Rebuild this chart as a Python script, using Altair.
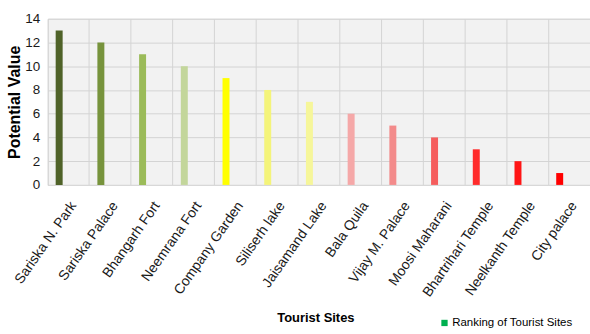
import altair as alt
import pandas as pd

sites = ["Sariska N. Park", "Sariska Palace", "Bhangarh Fort", "Neemrana Fort",
         "Company Garden", "Siliserh lake", "Jaisamand Lake", "Bala Quila",
         "Vijay M. Palace", "Moosi Maharani", "Bhartrihari Temple",
         "Neelkanth Temple", "City palace"]
values = [13, 12, 11, 10, 9, 8, 7, 6, 5, 4, 3, 2, 1]
colors = ["#4f6228", "#77933c", "#9bbb59", "#c3d69b", "#ffff00", "#f4f47a",
          "#f6f69a", "#f5a8a8", "#f38b8b", "#f55d5d", "#ff2b2b", "#ff1515", "#ff0000"]
series_name = "Ranking of Tourist Sites"

df = pd.DataFrame({"site": sites, "value": values, "color": colors,
                   "series": [series_name] * len(sites)})

FONT = "Liberation Sans, Arial"

base = alt.Chart(df).encode(
    x=alt.X("site:N", sort=sites,
            scale=alt.Scale(paddingInner=0, paddingOuter=0),
            axis=alt.Axis(title="Tourist Sites", bandPosition=0, grid=True,
                          gridColor="#d4d4d4", gridOpacity=1, gridWidth=1,
                          ticks=False, domainColor="#d9d9d9",
                          labelAngle=-55, labelAlign="right", labelBaseline="middle",
                          labelOffset=5, labelPadding=18, labelFont=FONT,
                          labelFontSize=14, labelColor="#1a1a1a",
                          titleFont=FONT, titleFontSize=13, titleFontWeight="bold",
                          titleX=269, titleY=133, titleBaseline="middle",
                          titleAlign="center", titleColor="#000000")),
    y=alt.Y("value:Q", scale=alt.Scale(domain=[0, 14]),
            axis=alt.Axis(title="Potential Value", values=[0, 2, 4, 6, 8, 10, 12, 14],
                          grid=True, gridColor="#d4d4d4", ticks=False, domain=False,
                          labelPadding=8, labelFont=FONT, labelFontSize=13.5,
                          labelColor="#1a1a1a",
                          titleFont=FONT, titleFontSize=16,
                          titleFontWeight="bold", titleX=-33, titleY=83.5,
                          titleAngle=-90, titleAlign="center",
                          titleBaseline="middle", titleColor="#000000")),
)

bars = base.mark_bar(size=7, xOffset=-9.5).encode(
    fill=alt.Fill("color:N", scale=None)
)

legend_layer = base.mark_bar(size=7, xOffset=-9.5, opacity=0).encode(
    color=alt.Color("series:N", scale=alt.Scale(range=["#00b050"]),
                    legend=alt.Legend(title=None, orient="none", legendX=393,
                                      legendY=300, symbolType="square",
                                      symbolSize=40, symbolOpacity=1,
                                      symbolStrokeWidth=0,
                                      labelFont=FONT, labelFontSize=11.5,
                                      labelColor="#000000", labelOffset=2))
)

chart = alt.layer(bars, legend_layer).properties(
    width=545, height=167,
    autosize=alt.AutoSizeParams(type="none"),
    padding={"left": 48, "top": 18, "right": 0, "bottom": 149},
    background="white",
).configure_view(fill="#f2f2f2", stroke="#d9d9d9")

chart.save("out.html", embed_options={"renderer": "svg", "actions": False})
